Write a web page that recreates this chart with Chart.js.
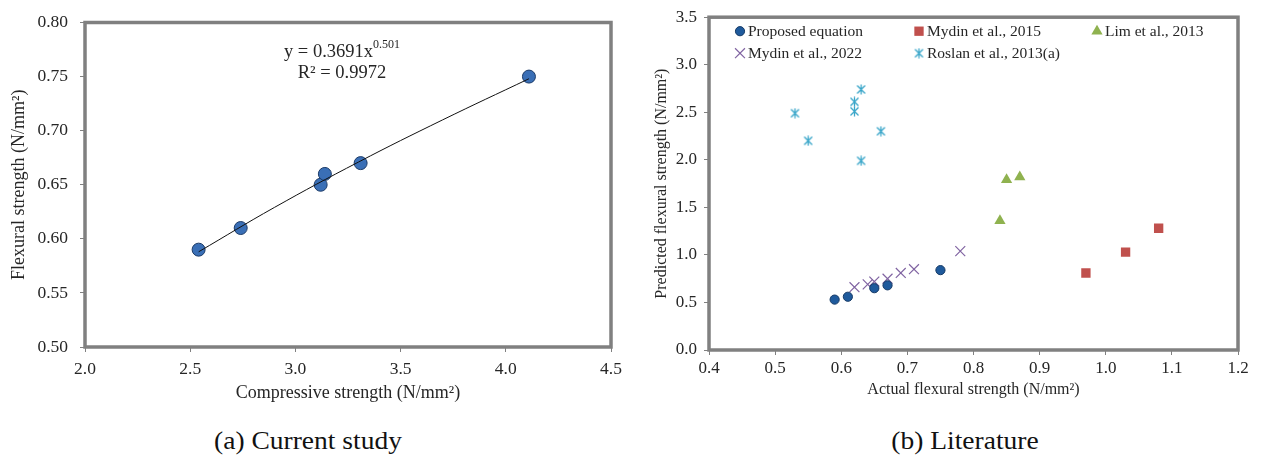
<!DOCTYPE html>
<html>
<head>
<meta charset="utf-8">
<script src="https://cdn.jsdelivr.net/npm/chart.js@4"></script>
<style>
  body { margin: 0; background: #fff; width: 1267px; height: 459px; position: relative; overflow: hidden; }
  canvas { position: absolute; top: 0; }
  #c1 { left: 0; }
  #c2 { left: 640px; }
  .cap { position: absolute; top: 427px; font-family: "Liberation Serif", "Times New Roman", serif; font-size: 25px; color: #111; transform: translateX(-50%) scaleX(1.1); white-space: nowrap; }
</style>
</head>
<body>
<canvas id="c1" width="640" height="420"></canvas>
<canvas id="c2" width="627" height="420"></canvas>
<div class="cap" style="left:308px">(a) Current study</div>
<div class="cap" style="left:965px">(b) Literature</div>
<script>
// (a) current study
var compStrength = [2.54, 2.74, 3.12, 3.14, 3.31, 4.11];
var flexStrength = [0.59, 0.61, 0.65, 0.66, 0.67, 0.75];
// power trendline y = 0.3691x^0.501
var trendX = [2.54, 2.9, 3.3, 3.7, 4.11];
var trendY = [0.588, 0.629, 0.671, 0.710, 0.748];

// (b) literature, actual vs predicted
var seriesNames = ['Proposed equation', 'Mydin et al., 2015', 'Lim et al., 2013', 'Mydin et al., 2022', 'Roslan et al., 2013(a)'];
var proposedX = [0.59, 0.61, 0.65, 0.67, 0.75];
var proposedY = [0.53, 0.56, 0.65, 0.68, 0.84];
var mydin15X = [0.97, 1.03, 1.08];
var mydin15Y = [0.81, 1.03, 1.28];
var limX = [0.84, 0.85, 0.87];
var limY = [1.36, 1.79, 1.82];
var mydin22X = [0.62, 0.64, 0.65, 0.67, 0.69, 0.71, 0.78];
var mydin22Y = [0.66, 0.69, 0.72, 0.75, 0.81, 0.85, 1.04];
var roslanX = [0.53, 0.55, 0.62, 0.62, 0.63, 0.63, 0.66];
var roslanY = [2.49, 2.20, 2.61, 2.51, 2.74, 1.99, 2.30];

var serif = '"Liberation Serif", "Times New Roman", serif';
var textCl = '#262626';
var boxCl = '#808080';

Chart.defaults.font.family = serif;
Chart.defaults.color = textCl;

function pairs(xs, ys) {
  return xs.map(function (x, i) { return {x: x, y: ys[i]}; });
}

// excel style star marker: x with a vertical bar
function starMarker(color, size) {
  var c = document.createElement('canvas');
  c.width = size; c.height = size;
  var g = c.getContext('2d');
  var m = size / 2;
  g.strokeStyle = color;
  g.lineWidth = 1.3;
  g.beginPath();
  g.moveTo(1.5, 1.5); g.lineTo(size - 1.5, size - 1.5);
  g.moveTo(size - 1.5, 1.5); g.lineTo(1.5, size - 1.5);
  g.moveTo(m, 0.5); g.lineTo(m, size - 0.5);
  g.stroke();
  return c;
}

var frame = {
  id: 'frame',
  afterDraw: function (chart) {
    var a = chart.chartArea, ctx = chart.ctx;
    ctx.save();
    ctx.strokeStyle = boxCl;
    ctx.lineWidth = 3.5;
    ctx.strokeRect(a.left, a.top, a.right - a.left, a.bottom - a.top);
    ctx.restore();
  }
};

function axis(min, max, step, dec, fontSize, tickPad, title, titleSize, titlePad, fit) {
  return {
    type: 'linear', min: min, max: max,
    afterFit: fit,
    ticks: {stepSize: step, padding: tickPad, color: textCl, font: {size: fontSize},
      callback: function (v) { return v.toFixed(dec); }},
    grid: {display: true, drawOnChartArea: false, tickLength: 5, color: boxCl},
    border: {display: false},
    title: {display: true, text: title, color: textCl, font: {size: titleSize}, padding: titlePad}
  };
}

// ---- chart (a)
var eqnLabel = {
  id: 'eqnLabel',
  afterDraw: function (chart) {
    var ctx = chart.ctx;
    ctx.save();
    ctx.fillStyle = textCl;
    ctx.textBaseline = 'alphabetic';
    ctx.font = '18.5px ' + serif;
    var main = 'y = 0.3691x', sup = '0.501';
    var w1 = ctx.measureText(main).width;
    ctx.font = '12px ' + serif;
    var w2 = ctx.measureText(sup).width;
    var x0 = 342 - (w1 + w2) / 2;
    ctx.font = '18.5px ' + serif;
    ctx.fillText(main, x0, 57);
    ctx.font = '12px ' + serif;
    ctx.fillText(sup, x0 + w1, 48);
    ctx.font = '18.5px ' + serif;
    ctx.textAlign = 'center';
    ctx.fillText('R² = 0.9972', 342, 78);
    ctx.restore();
  }
};

new Chart(document.getElementById('c1'), {
  type: 'scatter',
  data: {
    datasets: [
      {
        type: 'line',
        data: pairs(trendX, trendY),
        borderColor: '#111',
        borderWidth: 1,
        pointRadius: 0,
        fill: false,
        tension: 0.4,
        order: 0
      },
      {
        data: pairs(compStrength, flexStrength),
        backgroundColor: '#3a6fb6',
        borderColor: '#1c3b68',
        borderWidth: 1,
        pointRadius: 6.5,
        order: 1
      }
    ]
  },
  options: {
    responsive: false,
    animation: false,
    devicePixelRatio: 1,
    layout: {padding: {left: 0, top: 22, right: 29, bottom: 0}},
    plugins: {legend: {display: false}, tooltip: {enabled: false}},
    scales: {
      x: axis(2.0, 4.5, 0.5, 1, 17.5, 7, 'Compressive strength (N/mm²)', 18, {top: 0, bottom: 16},
        function (s) { s.height = 73; }),
      y: axis(0.5, 0.8, 0.05, 2, 17.5, 12, 'Flexural strength (N/mm²)', 18, {top: 8, bottom: 0},
        function (s) { s.width = 85; })
    }
  },
  plugins: [frame, eqnLabel]
});

// ---- chart (b)
var legendGrid = {
  id: 'legendGrid',
  afterDraw: function (chart) {
    var ctx = chart.ctx, a = chart.chartArea;
    var cols = [31, 210, 388], rows = [14, 36];
    chart.data.datasets.forEach(function (ds, i) {
      var x = a.left + cols[i % 3];
      var y = a.top + rows[Math.floor(i / 3)];
      ctx.save();
      ctx.fillStyle = ds.backgroundColor;
      ctx.strokeStyle = ds.borderColor;
      ctx.lineWidth = ds.borderWidth;
      Chart.helpers.drawPoint(ctx, {pointStyle: ds.pointStyle, radius: ds.pointRadius, borderWidth: ds.borderWidth, rotation: 0}, x, y);
      ctx.fillStyle = textCl;
      ctx.font = '15.5px ' + serif;
      ctx.textBaseline = 'middle';
      ctx.fillText(ds.label, x + 8, y + 1);
      ctx.restore();
    });
  }
};

new Chart(document.getElementById('c2'), {
  type: 'scatter',
  data: {
    datasets: [
      {label: seriesNames[0], data: pairs(proposedX, proposedY), pointStyle: 'circle', pointRadius: 4.6,
        backgroundColor: '#1f5a9c', borderColor: '#163a66', borderWidth: 1},
      {label: seriesNames[1], data: pairs(mydin15X, mydin15Y), pointStyle: 'rect', pointRadius: 6.6,
        backgroundColor: '#c0504d', borderColor: '#c0504d', borderWidth: 0},
      {label: seriesNames[2], data: pairs(limX, limY), pointStyle: 'triangle', pointRadius: 6.5,
        backgroundColor: '#8fb24f', borderColor: '#8fb24f', borderWidth: 0},
      {label: seriesNames[3], data: pairs(mydin22X, mydin22Y), pointStyle: 'crossRot', pointRadius: 7,
        backgroundColor: '#8064a2', borderColor: '#8064a2', borderWidth: 1.2},
      {label: seriesNames[4], data: pairs(roslanX, roslanY), pointStyle: starMarker('#3aa6c9', 11), pointRadius: 5.5,
        backgroundColor: '#3aa6c9', borderColor: '#3aa6c9', borderWidth: 1.2}
    ]
  },
  options: {
    responsive: false,
    animation: false,
    devicePixelRatio: 1,
    layout: {padding: {left: 0, top: 14, right: 29, bottom: 0}},
    plugins: {legend: {display: false}, tooltip: {enabled: false}},
    scales: {
      x: axis(0.4, 1.2, 0.1, 1, 17, 3, 'Actual flexural strength (N/mm²)', 16, {top: 0, bottom: 21},
        function (s) { s.height = 70; }),
      y: axis(0, 3.5, 0.5, 1, 17, 7, 'Predicted flexural strength (N/mm²)', 16, {top: 12, bottom: 0},
        function (s) { s.width = 69; })
    }
  },
  plugins: [frame, legendGrid]
});
</script>
</body>
</html>
